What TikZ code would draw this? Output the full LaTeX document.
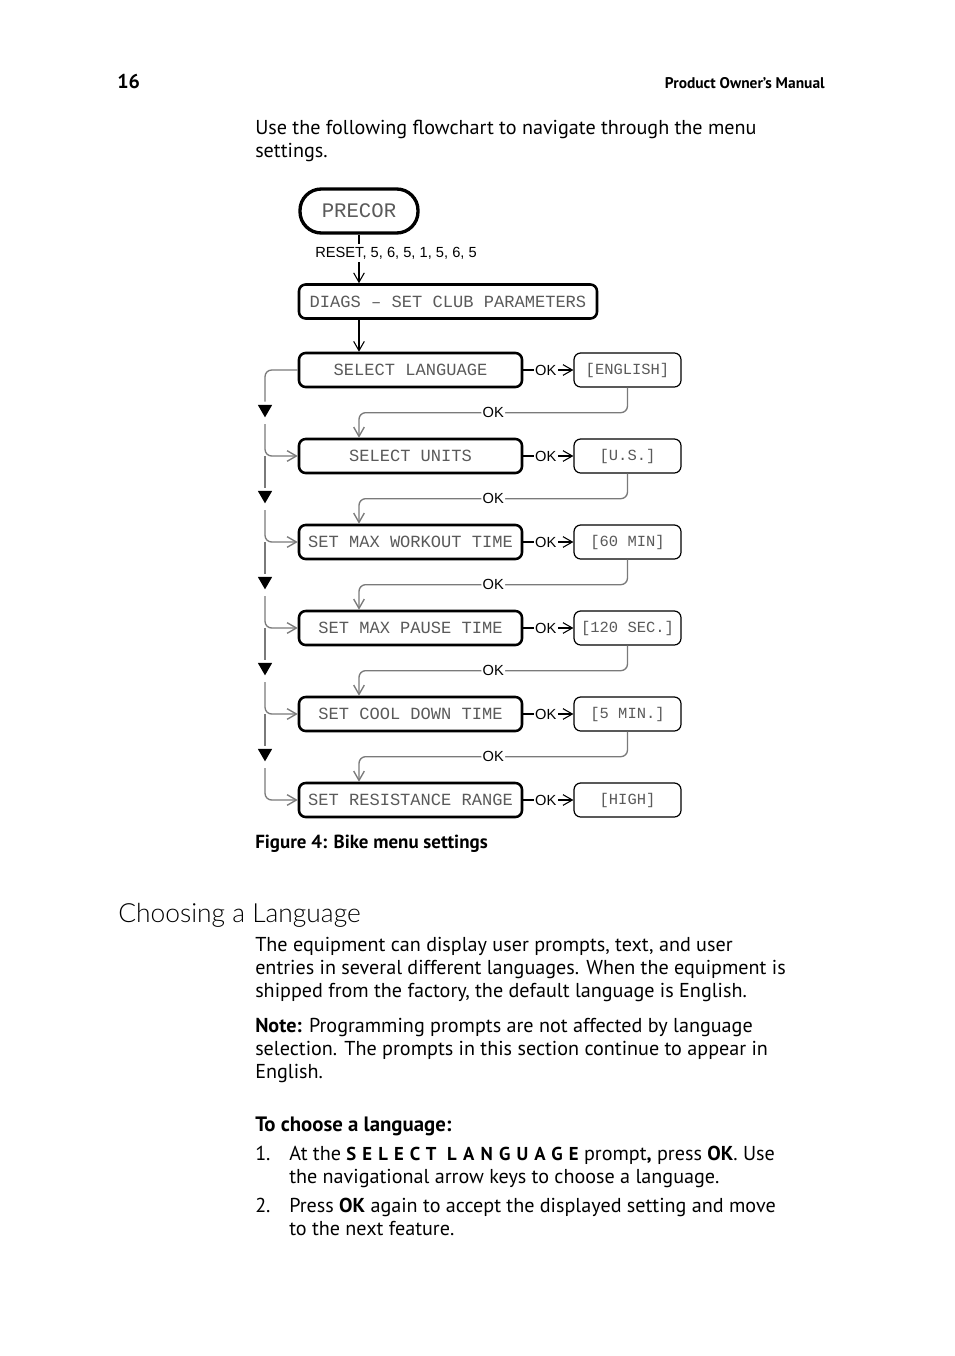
\documentclass[tikz,border=0pt]{standalone}
\usepackage{fontspec}
\setmainfont{PT Sans}
\newfontfamily\lcdfont{Liberation Mono}
\newfontfamily\lblfont{Liberation Sans}
\newfontfamily\headfont{Lato Light}
\usetikzlibrary{arrows.meta,positioning,calc,shapes.geometric}
\definecolor{LCD}{HTML}{5A5A5A}
\definecolor{LN}{HTML}{7A7A7A}
\newcommand{\bodysize}{\fontsize{15.1}{18}\selectfont}

\begin{document}
\begin{tikzpicture}[x=0.75pt,y=-0.75pt,
    >={Straight Barb[length=7pt,width=8pt]},
    lcd/.style={draw, line width=1.9pt, rounded corners=5pt, minimum width=167.25pt,
      minimum height=25.5pt, inner sep=0pt, text=LCD, font=\lcdfont\fontsize{12.8}{14}\selectfont},
    valbox/.style={draw, line width=0.9pt, rounded corners=5pt, minimum width=80.25pt,
      minimum height=25.5pt, inner sep=0pt, text=LCD, font=\lcdfont\fontsize{11.6}{14}\selectfont},
    okarr/.style={line width=0.8pt, ->},
    ret/.style={LN, line width=1pt, rounded corners=5pt},
    oklbl/.style={fill=white, inner sep=1pt, font=\lblfont\fontsize{11}{12}\selectfont},
    tri/.style={regular polygon, regular polygon sides=3, shape border rotate=180, fill=black,
      minimum size=12.5pt, inner sep=0pt, outer sep=2.5pt},
    txt/.style={anchor=base west, inner sep=0pt, font=\bodysize}]
  \useasboundingbox[fill=white] (0,0) rectangle (954,1356);

  % page header
  \node[txt, font=\bfseries\fontsize{15}{18}\selectfont] (pgnum) at (117,88) {16};
  \node[txt, anchor=base east, font=\bfseries\fontsize{11.6}{13}\selectfont] (hdr) at (825,88) {Product Owner's Manual};
  \node[txt] (intro1) at (255,134) {Use the following flowchart to navigate through the menu};
  \node[txt] (intro2) at (255,157) {settings.};

  % flowchart
  \node[draw, line width=2.5pt, rounded corners=16pt, minimum width=88.5pt, minimum height=33pt,
    inner sep=0pt, text=LCD, font=\lcdfont\fontsize{15.5}{17}\selectfont] (precor) at (359,211) {PRECOR};
  \node[lcd, minimum width=223.5pt] (diags) at (448,301.5) {DIAGS – SET CLUB PARAMETERS};
  \foreach \i/\lbl/\val in {1/SELECT LANGUAGE/[ENGLISH], 2/SELECT UNITS/[U.S.],
      3/SET MAX WORKOUT TIME/[60 MIN], 4/SET MAX PAUSE TIME/[120 SEC.],
      5/SET COOL DOWN TIME/[5 MIN.], 6/SET RESISTANCE RANGE/[HIGH]}{
    \node[lcd] (m\i) at (410.5,{284+86*\i}) {\lbl};
    \node[valbox] (v\i) at (627.5,{284+86*\i}) {\val};
    \draw[okarr] (m\i.east) -- node[oklbl, pos=0.45] {OK} (v\i.west);
  }
  \foreach \i in {1,...,5}{
    \node[tri] (t\i) at (265,{323+86*\i}) {};
  }

  \draw[line width=0.8pt, ->] (precor.south) -- (precor |- diags.north);
  \node[oklbl, inner sep=2pt] (reset) at (396,253) {RESET, 5, 6, 5, 1, 5, 6, 5};
  \draw[line width=0.8pt, ->] (precor |- diags.south) -- (precor |- m1.north);

  \draw[ret] (m1.west) -| (t1.north);
  \foreach \i [evaluate=\i as \j using int(\i+1)] in {1,...,5}{
    \draw[ret, ->] (v\i.south) |- ($(v\i.south)!0.5!(precor |- m\j.north)$)
      node[oklbl, text=black] {OK} -| (precor |- m\j.north);
    \draw[ret, ->] (t\i.south) |- (m\j.west);
  }
  \foreach \i in {2,...,5}{
    \draw[ret] (t\i |- m\i.west) -- (t\i.north);
  }

  \node[txt, font=\bfseries\fontsize{14.2}{17}\selectfont] (caption) at (255,848) {Figure 4: Bike menu settings};

  % section text
  \node[txt, font=\headfont\fontsize{19.8}{22}\selectfont] (head) at (118,922) {Choosing a Language};
  \node[txt] (p1) at (255,951) {The equipment can display user prompts, text, and user};
  \node[txt] (p2) at (255,974) {entries in several different languages. When the equipment is};
  \node[txt] (p3) at (255,997) {shipped from the factory, the default language is English.};
  \node[txt] (n1) at (255,1032) {\textbf{Note:} Programming prompts are not affected by language};
  \node[txt] (n2) at (255,1055) {selection. The prompts in this section continue to appear in};
  \node[txt] (n3) at (255,1078) {English.};
  \node[txt, font=\bfseries\fontsize{15.6}{18}\selectfont] (steps) at (255,1131) {To choose a language:};
  \node[txt] (s1num) at (255,1160) {1.};
  \node[txt] (s1a) at (289,1160) {At the {\bfseries\addfontfeature{LetterSpace=33}\fontsize{14}{15}\selectfont SELECT LANGUAGE} prompt\textbf{,} press \textbf{OK}. Use};
  \node[txt] (s1b) at (289,1183) {the navigational arrow keys to choose a language.};
  \node[txt] (s2num) at (255,1212) {2.};
  \node[txt] (s2a) at (289,1212) {Press \textbf{OK} again to accept the displayed setting and move};
  \node[txt] (s2b) at (289,1235) {to the next feature.};
\end{tikzpicture}
\end{document}
